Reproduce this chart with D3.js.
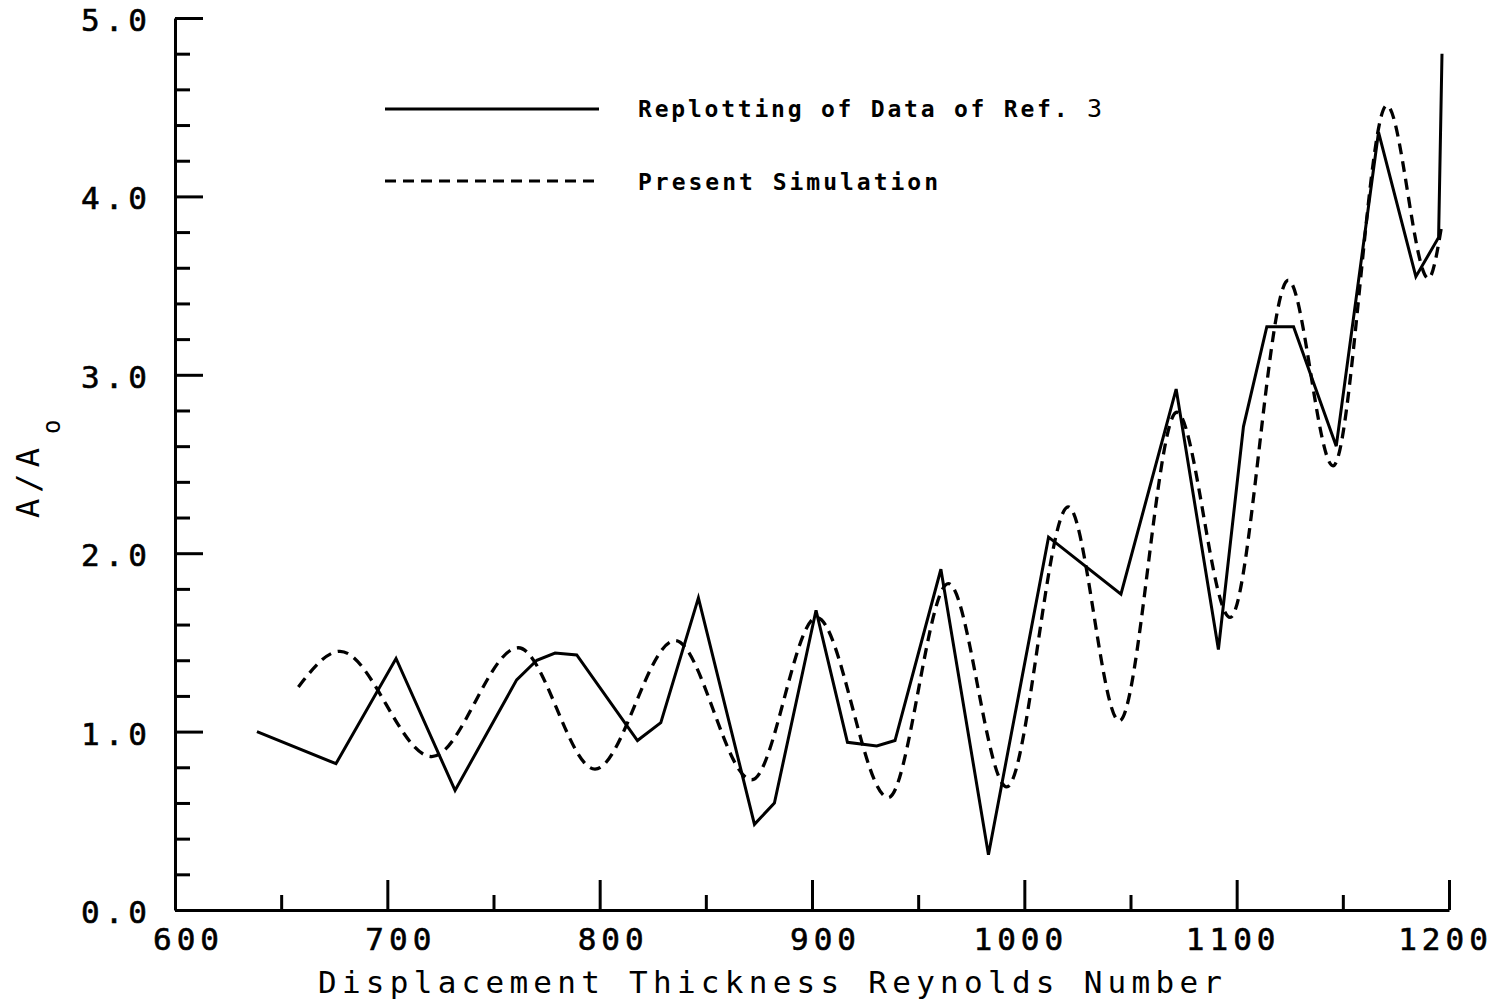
<!DOCTYPE html>
<html>
<head>
<meta charset="utf-8">
<script src="https://cdn.jsdelivr.net/npm/d3@7"></script>
<style>
  html, body { margin: 0; padding: 0; background: #fff; }
  svg { display: block; }
  .mono { font-family: "DejaVu Sans Mono", "Liberation Mono", monospace; fill: #000; }
</style>
</head>
<body>
<svg id="chart" width="1499" height="1006"></svg>
<script>
// Amplitude ratio A/A0 versus displacement thickness Reynolds number
// Replotted experimental data (solid polyline)
const refReynolds = [638.6, 675.8, 704.1, 731.9, 760.9, 770.4, 779.0, 789.2, 817.8, 828.8,
                     846.5, 872.9, 882.3, 901.9, 916.7, 930.5, 939.1, 960.7, 983.1, 1011.4,
                     1045.5, 1071.5, 1091.4, 1103.2, 1114.2, 1126.8, 1146.9, 1166.8, 1184.4, 1195.1, 1196.7];
const refAmplitude = [1.00, 0.82, 1.41, 0.67, 1.29, 1.40, 1.44, 1.43, 0.95, 1.05,
                      1.75, 0.48, 0.60, 1.68, 0.94, 0.92, 0.95, 1.91, 0.31, 2.09,
                      1.77, 2.92, 1.46, 2.71, 3.27, 3.27, 2.60, 4.36, 3.55, 3.77, 4.80];

// Simulation (dashed smooth curve) – turning points of the oscillation
const simReynolds = [658.1, 677.7, 720.9, 761.7, 797.8, 835.5, 871.6, 902.2, 935.9, 964.2,
                     991.7, 1020.7, 1044.7, 1071.8, 1096.9, 1124.3, 1145.4, 1170.7, 1190.3, 1196.6];
const simAmplitude = [1.25, 1.45, 0.86, 1.47, 0.79, 1.51, 0.73, 1.64, 0.63, 1.83,
                      0.69, 2.26, 1.06, 2.79, 1.64, 3.53, 2.49, 4.51, 3.54, 3.84];

// Axis ticks
const xMajorTicks = [600, 700, 800, 900, 1000, 1100, 1200];
const xMinorTicks = [650, 750, 850, 950, 1050, 1150];
const yMajorTicks = [0, 1, 2, 3, 4, 5];
const yMinorTicks = [0.2, 0.4, 0.6, 0.8, 1.2, 1.4, 1.6, 1.8, 2.2, 2.4, 2.6, 2.8,
                     3.2, 3.4, 3.6, 3.8, 4.2, 4.4, 4.6, 4.8];

const legendLabels = ["Replotting of Data of Ref. ", "3", "Present Simulation"];
const xTitle = "Displacement Thickness Reynolds Number";

const svg = d3.select("#chart");

const x = d3.scaleLinear().domain([600, 1200]).range([175, 1449]);
const y = d3.scaleLinear().domain([0, 5]).range([910, 18]);

const strokeW = 3;
const dashPattern = "11,7";

// ---- axes ----
function styleAxis(g) {
  g.selectAll("path.domain").attr("stroke", "#000").attr("stroke-width", strokeW);
  g.selectAll(".tick line").attr("stroke", "#000").attr("stroke-width", strokeW);
  g.selectAll(".tick text").attr("class", "mono").attr("fill", "#000")
    .style("font-size", "31px").style("letter-spacing", "5px")
    .attr("stroke", "#000").attr("stroke-width", 0.6);
}

// x axis: minor ticks first, then major ticks with labels
const gxMinor = svg.append("g").attr("transform", `translate(0,${y(0)})`)
  .call(d3.axisBottom(x).tickValues(xMinorTicks).tickSize(-15).tickSizeOuter(0).tickFormat(""));
styleAxis(gxMinor);
gxMinor.select("path.domain").remove();

const gx = svg.append("g").attr("transform", `translate(0,${y(0)})`)
  .call(d3.axisBottom(x).tickValues(xMajorTicks).tickSize(-30).tickSizeOuter(0)
        .tickPadding(18).tickFormat(d3.format("d")));
styleAxis(gx);
gx.selectAll(".tick text")
  .attr("dx", d => (String(d).length === 3 ? 13 : -4))
  .attr("dy", "0.71em");

// y axis: ticks point inward (to the right)
const gyMinor = svg.append("g").attr("transform", `translate(${x(600)},0)`)
  .call(d3.axisLeft(y).tickValues(yMinorTicks).tickSize(-15).tickSizeOuter(0).tickFormat(""));
styleAxis(gyMinor);
gyMinor.select("path.domain").remove();

const gy = svg.append("g").attr("transform", `translate(${x(600)},0)`)
  .call(d3.axisLeft(y).tickValues(yMajorTicks).tickSize(-28).tickSizeOuter(0)
        .tickPadding(23).tickFormat(d3.format(".1f")));
styleAxis(gy);
gy.selectAll(".tick text").attr("dy", "0.4em");

// ---- data lines ----
const refData = refReynolds.map((r, i) => [r, refAmplitude[i]]);
const simData = simReynolds.map((r, i) => [r, simAmplitude[i]]);

const lineRef = d3.line().x(d => x(d[0])).y(d => y(d[1])).curve(d3.curveLinear);
const lineSim = d3.line().x(d => x(d[0])).y(d => y(d[1])).curve(d3.curveMonotoneX);

svg.append("path").datum(simData)
  .attr("d", lineSim)
  .attr("fill", "none").attr("stroke", "#000").attr("stroke-width", strokeW + 0.3)
  .attr("stroke-dasharray", dashPattern);

svg.append("path").datum(refData)
  .attr("d", lineRef)
  .attr("fill", "none").attr("stroke", "#000").attr("stroke-width", strokeW)
  .attr("stroke-linejoin", "miter");

// ---- legend ----
const legend = svg.append("g");
legend.append("line").attr("x1", 385).attr("x2", 599).attr("y1", 109).attr("y2", 109)
  .attr("stroke", "#000").attr("stroke-width", strokeW);
legend.append("line").attr("x1", 385).attr("x2", 599).attr("y1", 181).attr("y2", 181)
  .attr("stroke", "#000").attr("stroke-width", strokeW).attr("stroke-dasharray", dashPattern);

const t1 = legend.append("text").attr("class", "mono").attr("x", 638).attr("y", 117)
  .style("font-size", "23px").style("font-weight", "bold")
  .attr("textLength", 464).attr("lengthAdjust", "spacing");
t1.append("tspan").text(legendLabels[0]);
t1.append("tspan").style("font-weight", "normal").style("font-size", "25px").text(legendLabels[1]);

legend.append("text").attr("class", "mono").attr("x", 638).attr("y", 190)
  .style("font-size", "23px").style("font-weight", "bold")
  .attr("textLength", 300).attr("lengthAdjust", "spacing")
  .text(legendLabels[2]);

// ---- axis titles ----
svg.append("text").attr("class", "mono")
  .attr("x", 318).attr("y", 993)
  .style("font-size", "31px")
  .attr("textLength", 904).attr("lengthAdjust", "spacing")
  .text(xTitle);

const yTitle = svg.append("text").attr("class", "mono")
  .attr("transform", "translate(39,518) rotate(-90)")
  .style("font-size", "32px");
yTitle.append("tspan").attr("textLength", 70).attr("lengthAdjust", "spacing").text("A/A");
yTitle.append("tspan").attr("dx", 8).attr("dy", 21).style("font-size", "24px").text("o");
</script>
</body>
</html>
